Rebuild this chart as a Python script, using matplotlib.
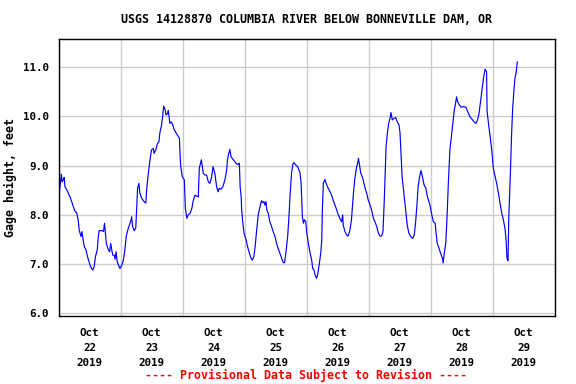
import pandas as pd
import matplotlib
matplotlib.use("Agg")
import matplotlib.pyplot as plt
import matplotlib.dates as mdates

# Gage height readings, hours after 2019-10-22 00:00
horas = [
    0.2, 0.5, 0.9, 1.1, 1.4, 1.9, 2.2, 2.5, 3.2, 3.8, 4.4, 5.1, 5.7, 6.4, 7.0, 7.6,
    8.0, 8.7, 9.1, 9.5, 10.0, 10.6, 11.1, 11.6, 12.2, 12.8, 13.3, 13.8, 14.3, 15.0,
    15.4, 15.7, 16.8, 17.4, 17.8, 18.1, 18.5, 19.3, 19.8, 20.2, 20.6, 21.0, 21.6,
    21.9, 22.3, 22.7, 23.2, 23.8, 24.5, 25.1, 25.7, 26.2, 26.8, 27.4, 28.1, 28.3,
    28.7, 29.3, 29.9, 30.3, 30.6, 31.1, 31.5, 32.2, 33.1, 33.8, 34.1, 34.7, 35.4,
    36.0, 36.7, 37.0, 37.7, 38.3, 38.9, 39.2, 39.9, 40.3, 40.7, 41.3, 41.6, 42.2,
    42.5, 43.1, 43.6, 44.2, 44.8, 45.6, 46.4, 46.8, 47.0, 47.3, 47.9, 48.7, 49.1,
    49.7, 50.2, 50.9, 51.6, 52.2, 52.8, 53.5, 54.1, 54.5, 55.3, 56.0, 56.7, 57.3,
    58.0, 58.6, 59.3, 59.8, 60.5, 61.2, 61.8, 62.2, 62.9, 63.6, 64.4, 65.1, 65.4,
    65.9, 66.3, 66.8, 67.7, 68.6, 69.0, 69.6, 70.0, 70.3, 70.7, 70.9, 71.3, 71.8,
    72.6, 73.2, 73.9, 74.5, 75.0, 75.6, 76.1, 76.7, 77.3, 78.0, 78.6, 79.0, 79.5,
    79.9, 80.3, 80.6, 81.2, 81.8, 82.5, 83.1, 83.8, 84.4, 85.0, 85.7, 86.4, 87.0,
    87.5, 88.0, 88.7, 89.2, 89.6, 90.2, 90.8, 91.2, 91.9, 92.6, 93.1, 93.5, 93.9,
    94.2, 94.4, 94.8, 95.2, 95.7, 96.1, 96.7, 97.4, 98.0, 98.4, 98.9, 99.3, 99.9,
    100.3, 100.8, 101.5, 101.9, 102.1, 102.5, 103.1, 103.8, 104.4, 105.1, 105.7,
    106.3, 107.0, 107.7, 108.3, 108.9, 109.6, 110.0, 110.2, 110.9, 111.5, 112.1,
    112.8, 113.4, 114.1, 114.7, 115.4, 115.8, 116.1, 116.5, 117.0, 117.8, 118.7,
    119.3, 119.9, 120.6, 121.2, 121.9, 122.5, 123.2, 123.8, 124.4, 125.1, 125.6,
    126.1, 126.4, 126.8, 127.3, 127.8, 128.3, 128.7, 129.2, 129.8, 130.5, 131.1,
    131.8, 132.2, 132.5, 133.0, 133.7, 134.4, 135.0, 135.6, 136.3, 137.1, 137.7,
    138.2, 138.7, 139.2, 139.8, 140.3, 140.8, 141.5, 142.2, 142.8, 143.4, 143.9,
    144.5, 145.1, 145.8, 146.1, 146.6, 147.3, 147.9, 148.6, 148.9, 149.3, 149.9,
    150.4, 150.9, 151.5, 152.2, 152.8, 153.2, 153.5, 154.1, 154.5, 155.0, 155.8,
    156.7, 157.7, 158.4, 159.2, 160.1, 160.9, 161.6, 162.2, 162.8, 163.5, 164.1,
    164.6, 165.1, 165.7, 165.9, 166.6, 167.1, 167.7, 168.3, 169.0, 169.6, 170.3,
    170.9, 171.6, 172.2, 172.8, 173.2, 173.6, 174.0, 174.3, 174.6, 175.0, 175.4,
    175.8, 176.3, 176.7, 177.2, 177.6,
]
altura = [
    8.40, 8.54, 8.71, 8.83, 8.67, 8.72, 8.76, 8.57, 8.51, 8.44, 8.37, 8.27, 8.17, 8.07, 8.05, 7.90,
    7.69, 7.56, 7.66, 7.49, 7.35, 7.29, 7.18, 7.08, 6.98, 6.91, 6.88, 6.95, 7.15, 7.29,
    7.56, 7.68, 7.68, 7.66, 7.83, 7.66, 7.42, 7.29, 7.25, 7.42, 7.29, 7.18, 7.18,
    7.10, 7.25, 7.05, 6.98, 6.91, 6.98, 7.08, 7.29, 7.56, 7.69, 7.79, 7.90, 7.96,
    7.76, 7.68, 7.73, 8.20, 8.54, 8.64, 8.44, 8.34, 8.27, 8.24, 8.51, 8.81, 9.12,
    9.32, 9.35, 9.25, 9.33, 9.45, 9.49, 9.66, 9.83, 10.00, 10.21, 10.13, 10.03, 10.06,
    10.12, 9.86, 9.89, 9.83, 9.73, 9.66, 9.59, 9.56, 9.28, 8.98, 8.78, 8.71, 8.13,
    7.93, 8.00, 8.03, 8.13, 8.30, 8.40, 8.38, 8.37, 8.95, 9.12, 8.85, 8.81, 8.81,
    8.67, 8.64, 8.78, 8.98, 8.85, 8.57, 8.47, 8.54, 8.52, 8.57, 8.71, 8.91, 9.12,
    9.25, 9.33, 9.18, 9.12, 9.06, 9.03, 9.03, 9.05, 8.57, 8.37, 8.10, 7.86, 7.63,
    7.49, 7.35, 7.22, 7.12, 7.08, 7.15, 7.35, 7.69, 8.00, 8.17, 8.29, 8.25, 8.27,
    8.20, 8.27, 8.10, 8.03, 7.86, 7.76, 7.66, 7.56, 7.42, 7.32, 7.22, 7.12, 7.03,
    7.03, 7.22, 7.56, 7.96, 8.37, 8.85, 9.05, 9.06, 9.01, 8.98, 8.91, 8.85, 8.64,
    8.24, 7.96, 7.83, 7.90, 7.86, 7.63, 7.42, 7.22, 7.08, 6.91, 6.88, 6.78, 6.71,
    6.78, 6.95, 7.22, 7.49, 8.03, 8.64, 8.72, 8.61, 8.54, 8.47, 8.40,
    8.30, 8.20, 8.10, 8.00, 7.93, 7.86, 8.00, 7.79, 7.66, 7.59, 7.57,
    7.69, 7.90, 8.40, 8.74, 8.98, 9.05, 9.15, 9.01, 8.85, 8.74, 8.54,
    8.44, 8.30, 8.20, 8.10, 7.93, 7.86, 7.76, 7.63, 7.57, 7.57, 7.66,
    8.30, 8.78, 9.39, 9.66, 9.86, 9.96, 10.08, 9.93, 9.96, 9.98, 9.89,
    9.83, 9.66, 9.32, 8.78, 8.44, 8.10, 7.79, 7.63, 7.56, 7.52, 7.59,
    7.83, 8.17, 8.57, 8.78, 8.90, 8.79, 8.61, 8.54, 8.37, 8.27, 8.17,
    8.00, 7.86, 7.83, 7.66, 7.42, 7.32, 7.22, 7.12, 7.02, 7.22, 7.42,
    7.96, 8.64, 9.32, 9.66, 9.96, 10.13, 10.21, 10.40, 10.30, 10.25, 10.19,
    10.20, 10.19, 10.10, 10.00, 9.94, 9.89, 9.86, 9.93, 10.07, 10.37, 10.61,
    10.81, 10.96, 10.91, 10.10, 9.79, 9.59, 9.32, 8.95, 8.78, 8.64, 8.44,
    8.24, 8.03, 7.90, 7.73, 7.52, 7.12, 7.07, 7.96, 8.37, 8.98, 9.66,
    10.17, 10.54, 10.78, 10.91, 11.11,
]

titulo = "USGS 14128870 COLUMBIA RIVER BELOW BONNEVILLE DAM, OR"
rotulo_y = "Gage height, feet"
aviso = "---- Provisional Data Subject to Revision ----"
y_ticks = [6.0, 7.0, 8.0, 9.0, 10.0, 11.0]

inicio = pd.Timestamp("2019-10-22 00:00")
fim = pd.Timestamp("2019-10-30 00:00")
tempo = inicio + pd.to_timedelta(horas, unit="h")

fonte = {"family": "DejaVu Sans Mono", "weight": "bold"}

fig = plt.figure(figsize=(5.76, 3.84), dpi=100)
ax = fig.add_axes([0.1016, 0.1779, 0.8611, 0.7198])

ax.plot(tempo, altura, color="#0000ff", linewidth=0.85)

ax.set_xlim(inicio, fim)
ax.set_ylim(5.951, 11.569)

# grade nas meias-noites, rótulos ao meio-dia
ax.xaxis.set_major_locator(mdates.DayLocator())
ax.xaxis.set_major_formatter(plt.NullFormatter())
ax.xaxis.set_minor_locator(mdates.HourLocator(byhour=[12]))
ax.xaxis.set_minor_formatter(mdates.DateFormatter("%b\n%d\n%Y"))
ax.tick_params(axis="x", which="both", length=0, pad=9)

ax.set_yticks(y_ticks)
ax.set_yticklabels([f"{v:.1f}" for v in y_ticks])
ax.tick_params(axis="y", length=0, pad=7)

for lbl in ax.get_xticklabels(minor=True) + ax.get_yticklabels():
    lbl.set_fontfamily(fonte["family"])
    lbl.set_fontweight("bold")
    lbl.set_fontsize(7.8)
for lbl in ax.get_xticklabels(minor=True):
    lbl.set_linespacing(1.6)

ax.grid(True, which="major", color="#cccccc", linewidth=1.0)
ax.set_axisbelow(True)
for s in ax.spines.values():
    s.set_linewidth(1.0)
    s.set_color("black")

ax.set_ylabel(rotulo_y, fontsize=8.4, labelpad=4, **fonte)
fig.text(0.532, 0.950, titulo, ha="center", va="center", fontsize=8.4, **fonte)
fig.text(0.532, 0.021, aviso, ha="center", va="center", fontsize=8.4,
         color="red", **fonte)

plt.savefig("out.png", dpi=100)
